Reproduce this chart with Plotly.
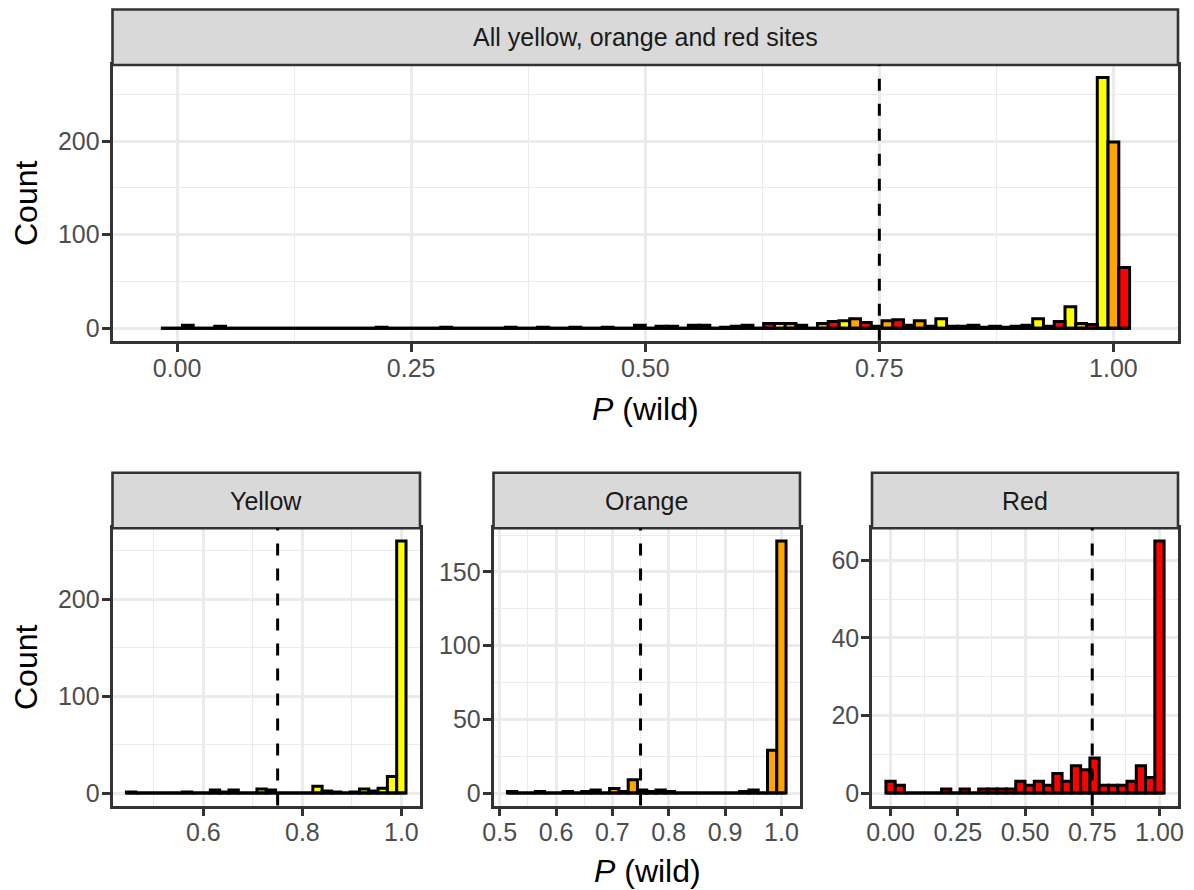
import numpy as np
import plotly.graph_objects as go

# ---------------- data (bin counts) ----------------
# Top panel: 30 bins spanning 0..1, dodged by site colour
all_bin_min, all_bin_max = 0.0, 1.0
all_yellow = [0, 0, 0, 0, 0, 0, 0, 0, 0, 0, 0, 0, 0, 0, 0, 0, 0, 0, 3, 5, 0, 8, 2, 3, 10, 3, 1, 10, 23, 268]
all_orange = [0, 0, 0, 0, 0, 0, 0, 0, 0, 0, 0, 0, 0, 0, 0, 2, 3, 1, 0, 5, 5, 10, 8, 8, 2, 1, 2, 2, 5, 199]
all_red = [3, 2, 0, 0, 0, 0, 1, 0, 1, 0, 1, 1, 1, 1, 3, 2, 3, 2, 5, 3, 7, 6, 9, 2, 2, 2, 3, 7, 4, 65]

# Bottom panels: 30 bins each over the range of each colour
yellow_bin_min, yellow_bin_max = 0.454, 1.0
yellow_counts = [1, 0, 0, 0, 0, 0, 1, 0, 0, 3, 1, 3, 0, 0, 4, 3, 0, 0, 0, 0, 7, 2, 1, 0, 1, 4, 2, 5, 17, 260]
orange_bin_min, orange_bin_max = 0.522, 1.0
orange_counts = [1, 0, 0, 1, 0, 0, 1, 0, 1, 2, 0, 3, 1, 9, 2, 1, 2, 1, 0, 0, 0, 0, 0, 0, 0, 1, 2, 0, 29, 171]
red_bin_min, red_bin_max = 0.0, 1.0
red_counts = [3, 2, 0, 0, 0, 0, 1, 0, 1, 0, 1, 1, 1, 1, 3, 2, 3, 2, 5, 3, 7, 6, 9, 2, 2, 2, 3, 7, 4, 65]

threshold = 0.75
strip_labels = ["All yellow, orange and red sites", "Yellow", "Orange", "Red"]
colours = {"Yellow": "#FFFF00", "Orange": "#FFA500", "Red": "#FF0000"}

# ---------------- style ----------------
W, H = 1194, 890
OFF = 8  # page body margin
FONT = "Liberation Sans, Arial, sans-serif"
GRID = "#EBEBEB"
DARK = "#333333"
LW = 3.0

def px(x):
    return (x - OFF) / W

def py(y):
    return 1 - (y - OFF) / H

# panel rectangles in page pixels (left, right, top, bottom)
panels = {
    "": (112.5, 1178.0, 65.0, 340.7),
    "2": (112.5, 420.0, 528.3, 805.6),
    "3": (493.5, 800.0, 528.3, 805.6),
    "4": (872.0, 1178.0, 528.3, 805.6),
}
STRIP_H_TOP = 55.5
STRIP_H_BOT = 55.5

fig = go.Figure()

def bins(bmin, bmax, n):
    centers = np.linspace(bmin, bmax, n)
    w = (bmax - bmin) / (n - 1)
    return centers, w

def xrange_for(bmin, bmax, w):
    lo, hi = bmin - w / 2, bmax + w / 2
    pad = 0.05 * (hi - lo)
    return [lo - pad, hi + pad], lo, hi

def yrange_for(counts):
    m = max(counts)
    return [-0.05 * m, 1.05 * m]

# ---- top panel (dodged) ----
centers, w = bins(all_bin_min, all_bin_max, len(all_red))
top_xr, top_lo, top_hi = xrange_for(all_bin_min, all_bin_max, w)
all_max = max(max(all_yellow), max(all_orange), max(all_red))
fig.add_trace(go.Scatter(x=[top_lo, top_hi], y=[0, 0], mode="lines",
                         line=dict(color="black", width=LW), xaxis="x", yaxis="y",
                         hoverinfo="skip"))
for i, (name, vals) in enumerate([("Yellow", all_yellow), ("Orange", all_orange), ("Red", all_red)]):
    fig.add_trace(go.Bar(x=centers, y=vals, width=w / 3, offset=-w / 2 + i * w / 3,
                         marker=dict(color=colours[name], line=dict(color="black", width=LW)),
                         xaxis="x", yaxis="y", name=name))

# ---- bottom panels ----
bottom = [
    ("2", "Yellow", yellow_bin_min, yellow_bin_max, yellow_counts),
    ("3", "Orange", orange_bin_min, orange_bin_max, orange_counts),
    ("4", "Red", red_bin_min, red_bin_max, red_counts),
]
bottom_ranges = {}
for ax, name, bmin, bmax, counts in bottom:
    c, bw = bins(bmin, bmax, len(counts))
    xr, lo, hi = xrange_for(bmin, bmax, bw)
    bottom_ranges[ax] = xr
    fig.add_trace(go.Scatter(x=[lo, hi], y=[0, 0], mode="lines",
                             line=dict(color="black", width=LW), xaxis="x" + ax, yaxis="y" + ax,
                             hoverinfo="skip"))
    fig.add_trace(go.Bar(x=c, y=counts, width=bw,
                         marker=dict(color=colours[name], line=dict(color="black", width=LW)),
                         xaxis="x" + ax, yaxis="y" + ax, name=name))

# ---------------- axes ----------------
tickfont = dict(family=FONT, size=25, color="#4D4D4D")

def axis_common():
    return dict(showgrid=True, gridcolor=GRID, gridwidth=2.6, zeroline=False,
                showline=True, linecolor=DARK, linewidth=2.6, mirror=True,
                ticks="outside", ticklen=8, tickwidth=2.6, tickcolor=DARK,
                tickfont=tickfont, fixedrange=True, automargin=False)

x_specs = {
    "": (top_xr, 0.25, ".2f", 0.125),
    "2": (bottom_ranges["2"], 0.2, ".1f", 0.1),
    "3": (bottom_ranges["3"], 0.1, ".1f", 0.05),
    "4": (bottom_ranges["4"], 0.25, ".2f", 0.125),
}
y_specs = {
    "": (yrange_for([all_max]), 100, 50),
    "2": (yrange_for(yellow_counts), 100, 50),
    "3": (yrange_for(orange_counts), 50, 25),
    "4": (yrange_for(red_counts), 20, 10),
}

layout_axes = {}
for ax, (l, r, t, b) in panels.items():
    xr, dt, fmt, mdt = x_specs[ax]
    yr, ydt, ymdt = y_specs[ax]
    xa = axis_common()
    xa.update(domain=[px(l), px(r)], range=xr, tick0=0, dtick=dt, tickformat=fmt,
              anchor="y" + ax, ticklabelstandoff=-5,
              minor=dict(tick0=0, dtick=mdt, showgrid=True, gridcolor=GRID, gridwidth=1.3))
    ya = axis_common()
    ya.update(domain=[py(b), py(t)], range=yr, tick0=0, dtick=ydt,
              anchor="x" + ax, ticklabelstandoff=-3,
              minor=dict(tick0=0, dtick=ymdt, showgrid=True, gridcolor=GRID, gridwidth=1.3))
    layout_axes["xaxis" + ax] = xa
    layout_axes["yaxis" + ax] = ya

# ---------------- strips, threshold lines, titles ----------------
shapes = []
annotations = []
for (ax, (l, r, t, b)), label in zip(panels.items(), strip_labels):
    sh = STRIP_H_TOP if ax == "" else STRIP_H_BOT
    shapes.append(dict(type="rect", xref="paper", yref="paper",
                       x0=px(l), x1=px(r), y0=py(t), y1=py(t - sh),
                       fillcolor="#D9D9D9", line=dict(color=DARK, width=2.6), layer="above"))
    annotations.append(dict(text=label, xref="paper", yref="paper",
                            x=px((l + r) / 2), y=py(t - sh / 2), showarrow=False,
                            xanchor="center", yanchor="middle",
                            font=dict(family=FONT, size=25, color="#1A1A1A")))
    shapes.append(dict(type="line", xref="x" + ax, yref="y" + ax + " domain",
                       x0=threshold, x1=threshold, y0=0, y1=1,
                       line=dict(color="black", width=LW, dash="12px,13px"), layer="above"))

title_font = dict(family=FONT, size=32, color="black")
annotations += [
    dict(text="Count", xref="paper", yref="paper", x=px(26), y=py(203), textangle=-90,
         showarrow=False, xanchor="center", yanchor="middle", font=title_font),
    dict(text="Count", xref="paper", yref="paper", x=px(26), y=py(667), textangle=-90,
         showarrow=False, xanchor="center", yanchor="middle", font=title_font),
    dict(text="<i>P</i> (wild)", xref="paper", yref="paper", x=px(645), y=py(409),
         showarrow=False, xanchor="center", yanchor="middle", font=title_font),
    dict(text="<i>P</i> (wild)", xref="paper", yref="paper", x=px(647), y=py(871),
         showarrow=False, xanchor="center", yanchor="middle", font=title_font),
]

fig.update_layout(
    width=W, height=H, margin=dict(l=0, r=0, t=0, b=0, pad=0, autoexpand=False),
    paper_bgcolor="white", plot_bgcolor="white",
    barmode="overlay", showlegend=False,
    shapes=shapes, annotations=annotations,
    **layout_axes,
)

fig.write_html("out.html")
